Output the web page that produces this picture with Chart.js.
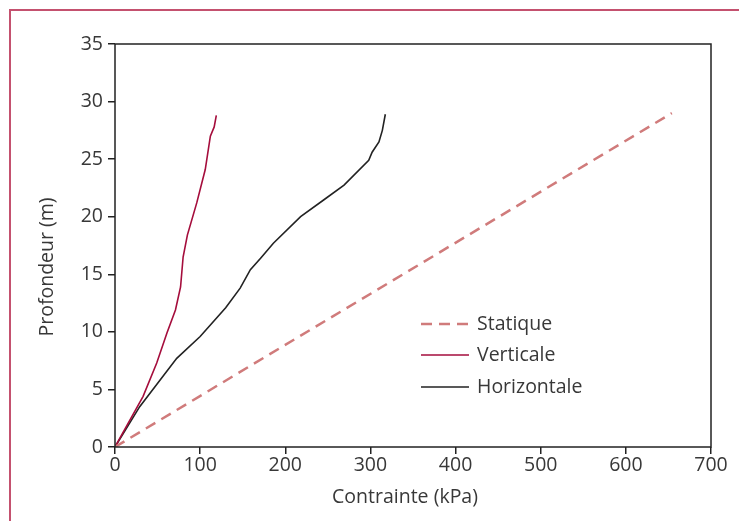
<!DOCTYPE html>
<html>
<head>
<meta charset="utf-8">
<script src="https://cdn.jsdelivr.net/npm/chart.js@4"></script>
<style>
  html, body { margin: 0; padding: 0; background: #fff; overflow: hidden; }
  #wrap { position: relative; width: 739px; height: 521px; }
  #frame { position: absolute; left: 9px; top: 9px; width: 800px; height: 600px; border: 2px solid #c4516f; box-sizing: border-box; }
  canvas { position: absolute; left: 0; top: 0; }
</style>
</head>
<body>
<div id="wrap">
  <div id="frame"></div>
  <canvas id="chart" width="739" height="521"></canvas>
</div>
<script>
// values: contrainte (kPa) vs profondeur (m)
var statiqueX = [0, 654]
var statiqueY = [0, 29]

var verticaleX = [0, 33, 49, 61, 71, 77, 80, 85, 96, 106, 112, 116.5, 119]
var verticaleY = [0, 4.4, 7.3, 9.9, 11.9, 13.9, 16.5, 18.4, 21.2, 24.1, 27, 27.8, 28.8]

var horizontaleX = [0, 29, 72.5, 100, 130, 147, 159, 171, 186, 218, 245, 269, 298, 302, 310, 314, 317.5]
var horizontaleY = [0, 3.5, 7.7, 9.6, 12.1, 13.8, 15.4, 16.4, 17.7, 20, 21.45, 22.75, 24.9, 25.6, 26.5, 27.5, 28.9]

var seriesNames = ['Statique', 'Verticale', 'Horizontale']
var xTitle = 'Contrainte (kPa)'
var yTitle = 'Profondeur (m)'

function pairs(xs, ys) {
    var out = []
    for (var i = 0; i < xs.length; i++) {
        out.push({ x: xs[i], y: ys[i] })
    }
    return out
}

var FONT = '"Open Sans", sans-serif'
var TEXT = '#383838'

// box around the plot, legend and axis titles
var decorations = {
    id: 'decorations',
    afterDraw: function(chart) {
        var ctx = chart.ctx
        var a = chart.chartArea
        ctx.save()
        ctx.strokeStyle = '#222'
        ctx.lineWidth = 1.5
        ctx.strokeRect(a.left, a.top, a.right - a.left, a.bottom - a.top)

        // legend
        var rows = [324, 355, 387]
        ctx.font = '19.5px ' + FONT
        ctx.textBaseline = 'middle'
        chart.data.datasets.forEach(function(ds, i) {
            ctx.beginPath()
            ctx.strokeStyle = ds.borderColor
            ctx.lineWidth = ds.borderWidth
            ctx.setLineDash(ds.borderDash || [])
            ctx.moveTo(421, rows[i])
            ctx.lineTo(469, rows[i])
            ctx.stroke()
            ctx.setLineDash([])
            ctx.fillStyle = TEXT
            ctx.textAlign = 'left'
            ctx.fillText(ds.label, 477, rows[i])
        })

        // axis titles
        ctx.fillStyle = TEXT
        ctx.textAlign = 'center'
        ctx.fillText(xTitle, 405, 497)
        ctx.translate(47, 267)
        ctx.rotate(-Math.PI / 2)
        ctx.fillText(yTitle, 0, 0)
        ctx.restore()
    }
}

var config = {
    type: 'scatter',
    data: {
        datasets: [{
            label: seriesNames[0],
            data: pairs(statiqueX, statiqueY),
            borderColor: '#d07b7b',
            borderWidth: 2.5,
            borderDash: [11, 7],
            showLine: true,
            pointRadius: 0
        }, {
            label: seriesNames[1],
            data: pairs(verticaleX, verticaleY),
            borderColor: '#a50d3c',
            borderWidth: 1.6,
            showLine: true,
            pointRadius: 0
        }, {
            label: seriesNames[2],
            data: pairs(horizontaleX, horizontaleY),
            borderColor: '#222',
            borderWidth: 1.6,
            showLine: true,
            pointRadius: 0
        }]
    },
    options: {
        responsive: false,
        animation: false,
        layout: { padding: { top: 44, right: 28, left: 0, bottom: 0 } },
        plugins: {
            legend: { display: false },
            tooltip: { enabled: false }
        },
        scales: {
            x: {
                type: 'linear',
                min: 0,
                max: 700,
                ticks: { stepSize: 100, color: TEXT, font: { family: FONT, size: 19.5 }, padding: 0, maxRotation: 0 },
                grid: { drawOnChartArea: false, tickLength: 7, color: '#222', lineWidth: 1.5 },
                border: { display: false },
                afterFit: function(scale) { scale.height = 74 }
            },
            y: {
                min: 0,
                max: 35,
                ticks: { stepSize: 5, color: TEXT, font: { family: FONT, size: 19.5 }, padding: 5 },
                grid: { drawOnChartArea: false, tickLength: 7, color: '#222', lineWidth: 1.5 },
                border: { display: false },
                afterFit: function(scale) { scale.width = 115 }
            }
        }
    },
    plugins: [decorations]
}

var contrainteChart = new Chart(document.getElementById('chart'), config)
</script>
</body>
</html>
